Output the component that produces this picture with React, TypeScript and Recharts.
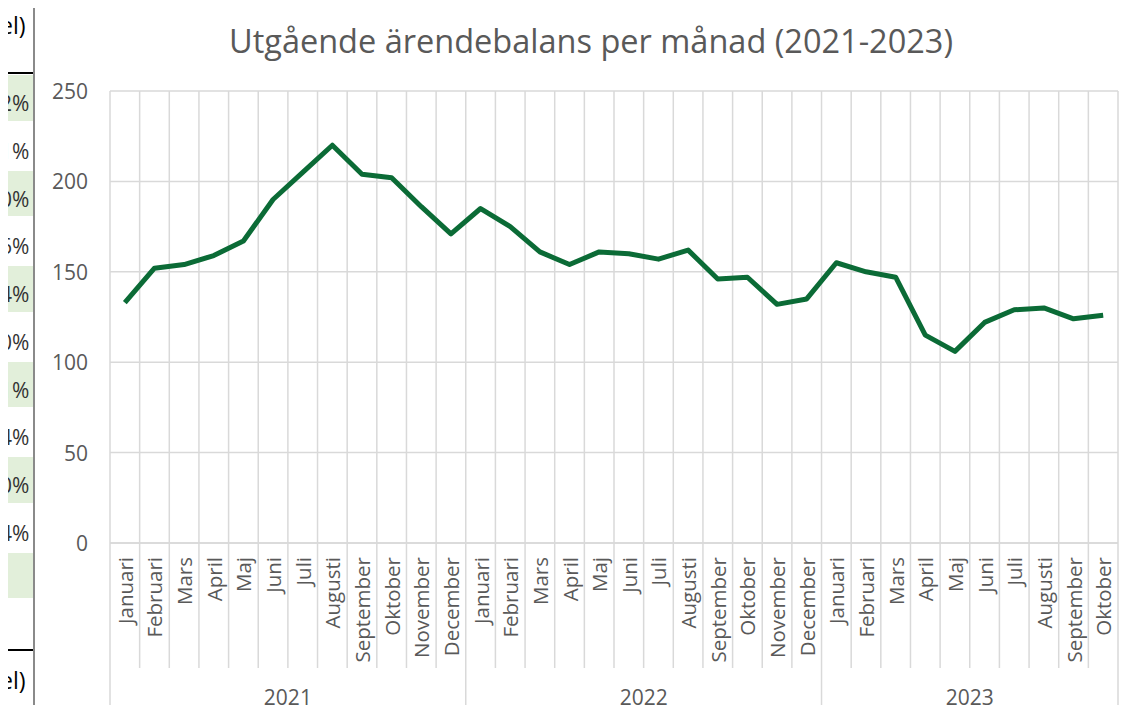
import React from 'react';
import { LineChart, Line, XAxis, YAxis, CartesianGrid } from 'recharts';

const months = [
  'Januari','Februari','Mars','April','Maj','Juni','Juli','Augusti','September','Oktober','November','December',
  'Januari','Februari','Mars','April','Maj','Juni','Juli','Augusti','September','Oktober','November','December',
  'Januari','Februari','Mars','April','Maj','Juni','Juli','Augusti','September','Oktober',
];
const years = [
  '2021','2021','2021','2021','2021','2021','2021','2021','2021','2021','2021','2021',
  '2022','2022','2022','2022','2022','2022','2022','2022','2022','2022','2022','2022',
  '2023','2023','2023','2023','2023','2023','2023','2023','2023','2023',
];
const values = [
  133, 152, 154, 159, 167, 190, 205, 220, 204, 202, 186, 171,
  185, 175, 161, 154, 161, 160, 157, 162, 146, 147, 132, 135,
  155, 150, 147, 115, 106, 122, 129, 130, 124, 126,
];
const yTicks = [0, 50, 100, 150, 200, 250];
const title = 'Utgående ärendebalans per månad (2021-2023)';
const sideTop = 'el)';
const sideBottom = 'el)';
const sidePercents = ['2%', '1%', '0%', '6%', '4%', '0%', '1%', '4%', '0%', '4%', ''];

const data = values.map((v, i) => ({ key: i, month: months[i], year: years[i], value: v }));

const W = 1147;
const H = 713;
const PLOT_L = 110;
const PLOT_R = 1118;
const PLOT_T = 91;
const PLOT_B = 543;
const PLOT_W = PLOT_R - PLOT_L;
const N = data.length;
const STEP = PLOT_W / N;
const GRID = '#D9D9D9';
const TEXT = '#595959';
const FONT = '"Open Sans", "Noto Sans", sans-serif';

const yearCount: Record<string, number> = {};
years.forEach((y) => { yearCount[y] = (yearCount[y] || 0) + 1; });

const MonthTick = (props: any) => {
  const { x, index } = props;
  const i = index as number;
  const left = x - STEP / 2;
  const isYearStart = i === 0 || years[i] !== years[i - 1];
  const els: any[] = [];
  els.push(
    <line key="l" x1={left} x2={left} y1={PLOT_B} y2={isYearStart ? H : 668} stroke={GRID} strokeWidth={1.5} />
  );
  if (i === N - 1) {
    els.push(<line key="r" x1={left + STEP} x2={left + STEP} y1={PLOT_B} y2={H} stroke={GRID} strokeWidth={1.5} />);
  }
  els.push(
    <text key="t" x={x} y={557} transform={`rotate(-90, ${x}, 557)`} textAnchor="end" dominantBaseline="central"
      fill={TEXT} fontSize={20.5} fontFamily={FONT}>{months[i]}</text>
  );
  if (isYearStart) {
    const cx = left + (yearCount[years[i]] * STEP) / 2;
    els.push(
      <text key="y" x={cx} y={697} textAnchor="middle" dominantBaseline="central" fill={TEXT} fontSize={21} fontFamily={FONT}>{years[i]}</text>
    );
  }
  return <g>{els}</g>;
};

const YTick = (props: any) => {
  const { y, payload } = props;
  return (
    <text x={88} y={y} textAnchor="end" dominantBaseline="central" fill={TEXT} fontSize={21} fontFamily={FONT}>{payload.value}</text>
  );
};

const sideText = (top: number, s: string, color: string, size: number) => (
  <div style={{ position: 'absolute', left: 0, top, fontFamily: FONT, fontSize: size, lineHeight: '32px', color, whiteSpace: 'nowrap' }}>{s}</div>
);

const Side = () => {
  const rowH = 47.75;
  const top0 = 75;
  return (
    <div style={{ position: 'absolute', left: 0, top: 0, width: 36, height: H, background: '#fff', overflow: 'hidden' }}>
      {sideText(9, sideTop, '#000', 23)}
      <div style={{ position: 'absolute', left: 0, width: 33, top: 72, height: 2, background: '#000' }} />
      {sidePercents.map((p, k) => (
        <div key={k} style={{
          position: 'absolute', left: 0, width: 33, top: top0 + k * rowH, height: rowH - 2,
          background: k % 2 === 0 ? '#E2EFDA' : 'transparent',
        }}>
          {sideText(12, p, '#333', 21)}
        </div>
      ))}
      <div style={{ position: 'absolute', left: 0, width: 33, top: 649, height: 2, background: '#000' }} />
      {sideText(664, sideBottom, '#000', 23)}
      <div style={{ position: 'absolute', left: 33, width: 2, top: 0, height: H, background: '#8a8a8a' }} />
    </div>
  );
};

export default function App() {
  return (
    <div style={{ position: 'relative', width: W, height: H, margin: -8, background: '#fff', overflow: 'hidden' }}>
      <LineChart width={W} height={H} data={data} margin={{ top: PLOT_T, right: W - PLOT_R, left: PLOT_L - 60, bottom: 0 }}>
        <text x={591} y={40} textAnchor="middle" dominantBaseline="central" fill={TEXT} fontSize={32.5} fontFamily={FONT}>{title}</text>
        <CartesianGrid
          stroke={GRID}
          strokeWidth={1.5}
          verticalCoordinatesGenerator={() => Array.from({ length: N + 1 }, (_, k) => PLOT_L + k * STEP)}
        />
        <XAxis dataKey="key" type="category" interval={0} height={H - PLOT_B} tick={<MonthTick />} tickLine={false}
          padding={{ left: STEP / 2, right: STEP / 2 }}
          axisLine={{ stroke: GRID, strokeWidth: 1.5 }} />
        <YAxis width={60} domain={[0, 250]} ticks={yTicks} tick={<YTick />} tickLine={false} axisLine={false} />
        <Line type="linear" dataKey="value" stroke="#0B6B36" strokeWidth={5} dot={false} isAnimationActive={false} strokeLinejoin="round" />
      </LineChart>
      <Side />
    </div>
  );
}
